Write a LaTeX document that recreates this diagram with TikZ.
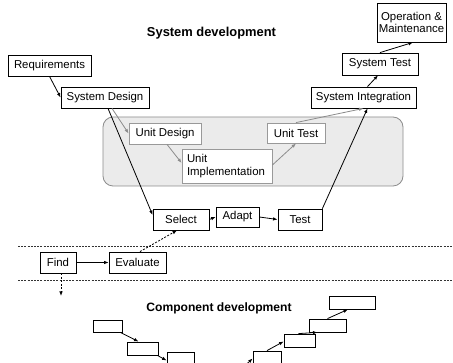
\documentclass[tikz,border=0pt]{standalone}
\usepackage{fontspec}
\setmainfont{Liberation Sans}
\usetikzlibrary{arrows.meta}
\begin{document}
\begin{tikzpicture}[x=1pt,y=-1pt,
  box/.style={draw=black,line width=0.8pt,fill=white,inner sep=0pt,align=center,font=\fontsize{11.4}{12.6}\selectfont},
  ubox/.style={box,draw=black!40},
  cbox/.style={draw=black,line width=0.8pt,fill=white,inner sep=0pt},
  arr/.style={line width=0.8pt,-{Latex[length=4.5pt,width=3.5pt]}},
  garr/.style={arr,draw=black!45,-{Latex[length=4.5pt,width=3.5pt]}},
  darr/.style={arr,dash pattern=on 2pt off 1.5pt},
  sep/.style={line width=0.8pt,dash pattern=on 2pt off 1.2pt,draw=black!80},
  ttl/.style={font=\bfseries\fontsize{12.9}{14}\selectfont,inner sep=0pt}]
\useasboundingbox (0,0) rectangle (453,363);
\clip (0,0) rectangle (453,363);
\fill[white] (0,0) rectangle (453,363);
% titles
\node[ttl] (t1) at (211.5,33) {System development};
\node[ttl,font=\bfseries\fontsize{12.1}{14}\selectfont] (t2) at (219,308) {Component development};
% gray area
\node[draw=black!45,fill=black!8,line width=0.8pt,rounded corners=10pt,minimum width=300pt,minimum height=69pt,inner sep=0pt] (area) at (253,151.5) {};
% system boxes
\node[box,minimum width=83pt,minimum height=21pt] (req) at (49.5,65.5) {Requirements};
\node[box,minimum width=88pt,minimum height=21pt] (sysd) at (105,97.5) {System Design};
\node[box,minimum width=69pt,minimum height=39pt] (ops) at (411.5,22.5) {Operation \&\\Maintenance};
\node[box,minimum width=76pt,minimum height=22pt] (systest) at (380,64) {System Test};
\node[box,minimum width=105pt,minimum height=21pt] (sysint) at (363.5,97.5) {System Integration};
% unit boxes
\node[ubox,minimum width=72pt,minimum height=21pt] (unitd) at (165,133.5) {Unit Design};
\node[ubox,minimum width=58pt,minimum height=20pt] (unitt) at (296,133) {Unit Test};
\node[ubox,minimum width=90pt,minimum height=34pt,align=left,text width=80pt] (impl) at (227,166) {Unit\\Implementation};
% component boxes
\node[box,minimum width=56pt,minimum height=21pt] (select) at (181,219.5) {Select};
\node[box,minimum width=43pt,minimum height=20pt] (adapt) at (237.5,217) {Adapt};
\node[box,minimum width=44pt,minimum height=21pt] (test) at (300,219.5) {Test};
\node[box,minimum width=36pt,minimum height=21pt] (find) at (58,262.5) {Find};
\node[box,minimum width=57pt,minimum height=21pt] (eval) at (137.5,262.5) {Evaluate};
% separators
\coordinate (s1a) at (18,246); \coordinate (s1b) at (453,246);
\coordinate (s2a) at (18,280); \coordinate (s2b) at (453,280);
\draw[sep] (s1a) -- (s1b);
\draw[sep] (s2a) -- (s2b);
% small boxes
\node[cbox,minimum width=29pt,minimum height=12pt] (c1) at (107.5,326) {};
\node[cbox,minimum width=31pt,minimum height=13pt] (c2) at (142.5,348.5) {};
\node[cbox,minimum width=27pt,minimum height=13pt] (c3) at (180.5,358.5) {};
\node[cbox,minimum width=28pt,minimum height=13pt] (r4) at (267,357.5) {};
\node[cbox,minimum width=31pt,minimum height=13pt] (r3) at (299.5,340.5) {};
\node[cbox,minimum width=37pt,minimum height=13pt] (r2) at (327.5,325.5) {};
\node[cbox,minimum width=46pt,minimum height=13pt] (r1) at (352,302.5) {};
\coordinate (c3out) at (215,375);
\coordinate (r4in) at (235,375);
\coordinate (finddown) at (61,296);
% connectors
\draw[arr] (req.south) -- (sysd.west);
\draw[arr] ([xshift=3pt]sysd.south) -- ([yshift=4.5pt]select.west);
\draw[garr] ([xshift=7pt]sysd.south) -- (unitd.west);
\draw[garr] ([xshift=2pt]unitd.south) -- ([yshift=3pt]impl.west);
\draw[garr] ([yshift=1pt]impl.east) -- (unitt.south);
\draw[garr] (unitt.north) -- (sysint.south);
\draw[arr] (test.north east) -- ([xshift=4pt]sysint.south);
\draw[arr] ([xshift=4pt]sysint.north) -- ([xshift=-2pt]systest.south);
\draw[arr] (systest.north) -- ([xshift=1.5pt]ops.south);
\draw[arr] (select.east) -- (adapt.west);
\draw[arr] (adapt.east) -- (test.west);
\draw[arr] (find.east) -- (eval.west);
\draw[darr] ([xshift=2.5pt]eval.north) -- ([xshift=-4pt]select.south);
\draw[darr] ([xshift=3pt]find.south) -- (finddown);
\draw[arr] ([xshift=-2pt]c1.south east) -- ([xshift=-4pt]c2.north);
\draw[arr] ([xshift=-1pt]c2.south east) -- ([yshift=-2pt]c3.west);
\draw[line width=0.8pt] ([xshift=1pt,yshift=2pt]c3.south east) -- (c3out);
\draw[arr] (r4in) -- ([yshift=-1pt]r4.west);
\draw[arr] (r4.north) -- ([yshift=-1pt]r3.west);
\draw[arr] ([xshift=-1pt]r3.north) -- ([xshift=-10pt]r2.south);
\draw[arr] (r2.north) -- ([xshift=-4pt]r1.south);
\end{tikzpicture}
\end{document}
